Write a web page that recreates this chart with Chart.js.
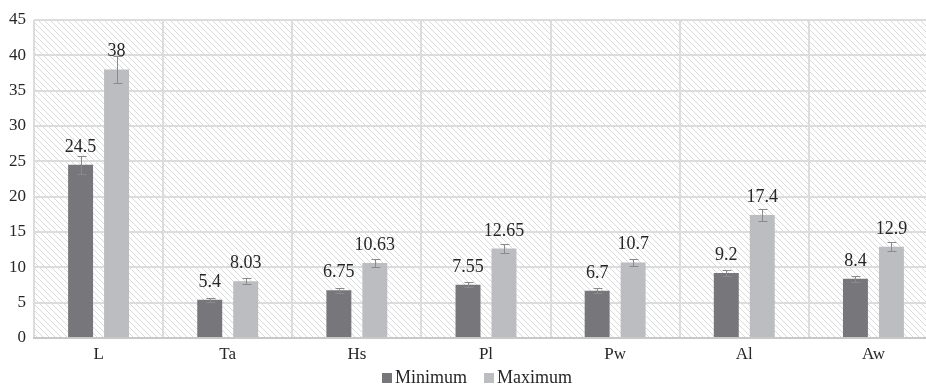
<!DOCTYPE html>
<html>
<head>
<meta charset="utf-8">
<title>Minimum / Maximum</title>
<script src="https://cdn.jsdelivr.net/npm/chart.js@4.4.0/dist/chart.umd.min.js"></script>
<style>
  html, body { margin: 0; padding: 0; background: #fff; overflow: hidden; }
  #wrap { position: relative; width: 940px; height: 387px; }
</style>
</head>
<body>
<div id="wrap"><canvas id="chart" width="940" height="387"></canvas></div>
<script>
/* data */
var categories = ['L', 'Ta', 'Hs', 'Pl', 'Pw', 'Al', 'Aw'];
var minimumValues = [24.5, 5.4, 6.75, 7.55, 6.7, 9.2, 8.4];
var maximumValues = [38, 8.03, 10.63, 12.65, 10.7, 17.4, 12.9];
var minimumErrors = [1.23, 0.27, 0.34, 0.38, 0.34, 0.46, 0.42];
var maximumErrors = [1.9, 0.4, 0.53, 0.63, 0.54, 0.87, 0.65];
var yTicks = [0, 5, 10, 15, 20, 25, 30, 35, 40, 45];
var seriesNames = ['Minimum', 'Maximum'];

var FONT = "'Liberation Serif', 'Times New Roman', serif";
var TEXT = '#262626';
var COLORS = ['#77777b', '#bcbdc1'];
var ERROR_COLOR = '#8a8a8a';

/* diagonal hatch for the plot background */
function makeHatch() {
  var c = document.createElement('canvas');
  c.width = 6; c.height = 6;
  var g = c.getContext('2d');
  g.strokeStyle = '#dadada';
  g.lineWidth = 1;
  g.beginPath();
  g.moveTo(-1, -1); g.lineTo(7, 7);
  g.moveTo(-1, 5); g.lineTo(1, 7);
  g.moveTo(5, -1); g.lineTo(7, 1);
  g.stroke();
  return c;
}

var hatchPlugin = {
  id: 'hatch',
  beforeDraw: function (chart) {
    var ctx = chart.ctx, a = chart.chartArea;
    ctx.save();
    ctx.fillStyle = ctx.createPattern(makeHatch(), 'repeat');
    ctx.fillRect(a.left, a.top, a.right - a.left, a.bottom - a.top);
    ctx.restore();
  }
};

var errorPlugin = {
  id: 'errorBars',
  afterDatasetsDraw: function (chart) {
    var ctx = chart.ctx, y = chart.scales.y;
    var errs = [minimumErrors, maximumErrors];
    ctx.save();
    chart.data.datasets.forEach(function (ds, di) {
      chart.getDatasetMeta(di).data.forEach(function (bar, i) {
        var v = ds.data[i], e = errs[di][i];
        var top = Math.round(y.getPixelForValue(v + e)) + 0.5;
        var bot = Math.round(y.getPixelForValue(v - e)) + 0.5;
        var x = Math.round(bar.x) + 0.5;
        ctx.strokeStyle = ERROR_COLOR;
        ctx.lineWidth = 1;
        ctx.beginPath();
        ctx.moveTo(x, top); ctx.lineTo(x, bot);
        ctx.moveTo(x - 4, top); ctx.lineTo(x + 5, top);
        ctx.moveTo(x - 4, bot); ctx.lineTo(x + 5, bot);
        ctx.stroke();
      });
    });
    ctx.restore();
  }
};

var labelPlugin = {
  id: 'valueLabels',
  afterDatasetsDraw: function (chart) {
    var ctx = chart.ctx;
    ctx.save();
    ctx.font = '18px ' + FONT;
    ctx.fillStyle = TEXT;
    ctx.textAlign = 'center';
    ctx.textBaseline = 'alphabetic';
    chart.data.datasets.forEach(function (ds, di) {
      chart.getDatasetMeta(di).data.forEach(function (bar, i) {
        ctx.fillText(String(ds.data[i]), bar.x, bar.y - 13);
      });
    });
    ctx.restore();
  }
};

var legendPlugin = {
  id: 'bottomLegend',
  afterDraw: function (chart) {
    var ctx = chart.ctx;
    ctx.save();
    ctx.font = '18px ' + FONT;
    ctx.textBaseline = 'middle';
    var box = 10, gapText = 3, gapItem = 17;
    var total = 0;
    seriesNames.forEach(function (n, i) {
      total += box + gapText + ctx.measureText(n).width + (i ? gapItem : 0);
    });
    var x = 477 - total / 2, cy = 378;
    seriesNames.forEach(function (n, i) {
      if (i) x += gapItem;
      ctx.fillStyle = COLORS[i];
      ctx.fillRect(x, cy - 5, box, box);
      x += box + gapText;
      ctx.fillStyle = TEXT;
      ctx.fillText(n, x, cy);
      x += ctx.measureText(n).width;
    });
    ctx.restore();
  }
};

new Chart(document.getElementById('chart'), {
  type: 'bar',
  data: {
    labels: categories,
    datasets: [
      { label: seriesNames[0], data: minimumValues, backgroundColor: COLORS[0] },
      { label: seriesNames[1], data: maximumValues, backgroundColor: COLORS[1] }
    ]
  },
  options: {
    responsive: false,
    animation: false,
    devicePixelRatio: 1,
    categoryPercentage: 0.557,
    barPercentage: 0.694,
    layout: { padding: { left: 0, right: 2, top: 20, bottom: 19 } },
    plugins: { legend: { display: false }, tooltip: { enabled: false } },
    scales: {
      x: {
        grid: { color: '#dcdcdc', lineWidth: 2, drawTicks: false, offset: true },
        border: { color: '#c8c8c8', width: 2 },
        ticks: { color: TEXT, font: { family: FONT, size: 17 }, padding: 6 },
        afterFit: function (s) { s.height = 30; }
      },
      y: {
        min: 0, max: 45,
        afterBuildTicks: function (s) { s.ticks = yTicks.map(function (v) { return { value: v }; }); },
        grid: { color: '#dcdcdc', lineWidth: 2, drawTicks: false },
        border: { display: false },
        ticks: { color: TEXT, font: { family: FONT, size: 17 }, padding: 8 },
        afterFit: function (s) { s.width = 34; }
      }
    }
  },
  plugins: [hatchPlugin, errorPlugin, labelPlugin, legendPlugin]
});
</script>
</body>
</html>
